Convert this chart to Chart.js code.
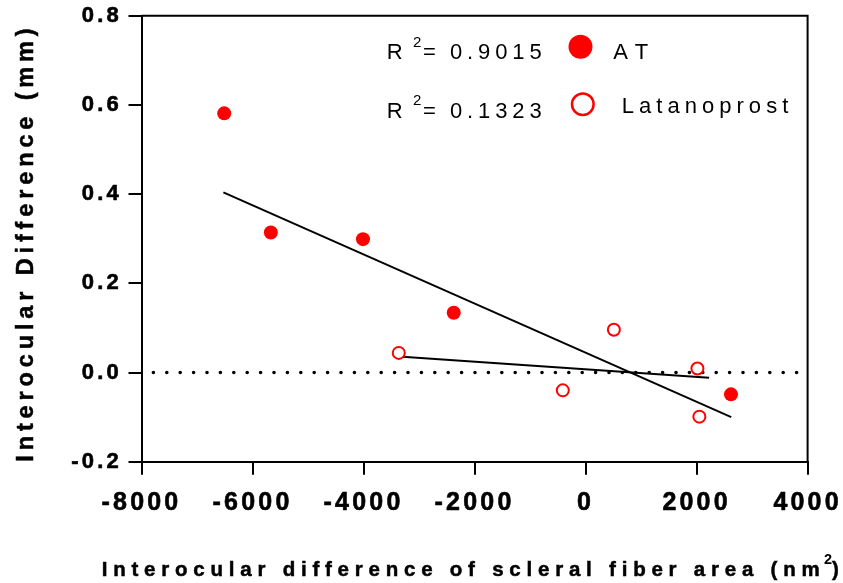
<!DOCTYPE html>
<html>
<head>
<meta charset="utf-8">
<script src="https://cdn.jsdelivr.net/npm/chart.js@4.4.1/dist/chart.umd.min.js"></script>
<style>
  html, body { margin: 0; padding: 0; background: #fff; }
  #wrap { width: 843px; height: 583px; }
</style>
</head>
<body>
<div id="wrap"><canvas id="chart" width="843" height="583"></canvas></div>
<script>
// values
const atX = [-6510, -5670, -4010, -2375, 2620]
const atY = [0.581, 0.314, 0.299, 0.134, -0.049]
const latX = [-3365, -410, 510, 2015, 2050]
const latY = [0.044, -0.040, 0.096, 0.009, -0.099]
// regression lines as drawn (end points)
const atFitX = [-6525, 2625]
const atFitY = [0.404, -0.100]
const latFitX = [-3365, 2225]
const latFitY = [0.036, -0.012]
// dotted zero line
const zeroX = [-8000, 4000]
const zeroY = [0, 0]

const xTicks = [-8000, -6000, -4000, -2000, 0, 2000, 4000]
const yTicks = [-0.2, 0, 0.2, 0.4, 0.6, 0.8]
const r2Values = ['0.9015', '0.1323']
const seriesNames = ['AT', 'Latanoprost']
const xTitle = 'Interocular difference of scleral fiber area (nm'
const yTitle = 'Interocular Difference (mm)'

const family = '"Liberation Sans", Arial, Helvetica, sans-serif'
const red = '#ff0000'

const toPoints = (xs, ys) => xs.map((x, i) => ({ x: x, y: ys[i] }))

// draw text so that its visible width matches the figure
function spacedText(ctx, text, x, y, width, stroke) {
    ctx.letterSpacing = '0px'
    const w0 = ctx.measureText(text).width
    const sp = text.length > 1 ? (width - w0) / (text.length - 1) : 0
    ctx.letterSpacing = sp + 'px'
    ctx.fillText(text, x, y)
    if (stroke) ctx.strokeText(text, x, y)
}

const framePlugin = {
    id: 'frame',
    beforeDraw(chart) {
        // spacing used by the tick labels
        chart.ctx.letterSpacing = '3.2px'
    },
    beforeDatasetsDraw(chart) {
        const { ctx, chartArea: a } = chart
        ctx.save()
        ctx.strokeStyle = '#000'
        ctx.lineWidth = 2
        ctx.beginPath()
        ctx.moveTo(a.left, a.top)
        ctx.lineTo(a.right, a.top)
        ctx.lineTo(a.right, a.bottom)
        ctx.stroke()
        ctx.restore()
    }
}

const textPlugin = {
    id: 'texts',
    afterDraw(chart) {
        const { ctx } = chart
        ctx.save()
        ctx.fillStyle = '#000'
        ctx.strokeStyle = '#000'
        ctx.lineWidth = 0.5
        ctx.textAlign = 'left'
        ctx.textBaseline = 'alphabetic'

        // x title
        ctx.font = 'bold 20.5px ' + family
        spacedText(ctx, xTitle, 101.7, 575.7, 718, true)
        ctx.letterSpacing = '0px'
        ctx.font = 'bold 14.5px ' + family
        ctx.fillText('2', 824, 563.5)
        ctx.font = 'bold 20.5px ' + family
        ctx.fillText(')', 832, 575.7)
        ctx.strokeText(')', 832, 575.7)

        // y title
        ctx.save()
        ctx.translate(33, 461.7)
        ctx.rotate(-Math.PI / 2)
        ctx.font = 'bold 23.5px ' + family
        spacedText(ctx, yTitle, 0, 0, 433.4, true)
        ctx.restore()

        // legend block
        const rows = [
            { base: 59.3, sup: 46.7, cy: 46.7, r: 12, filled: true, labelX: 613.3, labelBase: 58.6, labelW: 35 },
            { base: 118.3, sup: 104.5, cy: 104.2, r: 10.8, filled: false, labelX: 621.7, labelBase: 113.3, labelW: 166.6 }
        ]
        rows.forEach((row, i) => {
            ctx.fillStyle = '#000'
            ctx.letterSpacing = '0px'
            ctx.font = '22px ' + family
            ctx.fillText('R', 386.7, row.base)
            ctx.font = '15px ' + family
            ctx.fillText('2', 413, row.sup)
            ctx.font = '22px ' + family
            ctx.fillText('=', 423, row.base)
            spacedText(ctx, r2Values[i], 450, row.base, 91.7, false)
            spacedText(ctx, seriesNames[i], row.labelX, row.labelBase, row.labelW, false)

            ctx.beginPath()
            ctx.arc(row.filled ? 580.5 : 582.8, row.cy, row.r, 0, Math.PI * 2)
            if (row.filled) {
                ctx.fillStyle = red
                ctx.fill()
            } else {
                ctx.strokeStyle = red
                ctx.lineWidth = 2.5
                ctx.stroke()
            }
        })
        ctx.restore()
    }
}

new Chart(document.getElementById('chart'), {
    type: 'scatter',
    data: {
        datasets: [
            {
                label: 'AT',
                data: toPoints(atX, atY),
                pointRadius: 7,
                backgroundColor: red,
                borderColor: red,
                borderWidth: 0,
                order: 0
            },
            {
                label: 'Latanoprost',
                data: toPoints(latX, latY),
                pointRadius: 6,
                backgroundColor: '#fff',
                borderColor: red,
                borderWidth: 2,
                order: 0
            },
            {
                label: 'AT fit',
                data: toPoints(atFitX, atFitY),
                showLine: true,
                pointRadius: 0,
                borderColor: '#000',
                borderWidth: 2,
                order: 1
            },
            {
                label: 'Latanoprost fit',
                data: toPoints(latFitX, latFitY),
                showLine: true,
                pointRadius: 0,
                borderColor: '#000',
                borderWidth: 2,
                order: 1
            },
            {
                label: 'zero',
                data: toPoints(zeroX, zeroY),
                showLine: true,
                pointRadius: 0,
                borderColor: '#000',
                borderWidth: 3.6,
                borderDash: [0, 13.4],
                borderDashOffset: 1.5,
                borderCapStyle: 'round',
                order: 2
            }
        ]
    },
    options: {
        responsive: false,
        animation: false,
        events: [],
        layout: { padding: { top: 15.7, right: 35.4, left: 0, bottom: 0 } },
        plugins: {
            legend: { display: false },
            tooltip: { enabled: false }
        },
        scales: {
            x: {
                type: 'linear',
                min: -8000,
                max: 4000,
                afterBuildTicks: scale => { scale.ticks = xTicks.map(v => ({ value: v })) },
                afterFit: scale => {
                    scale.height = 121.3
                    scale.paddingLeft = 0
                    scale.paddingRight = 0
                },
                ticks: {
                    callback: v => String(v),
                    color: '#000',
                    font: { family: family, size: 25, weight: 'bold' },
                    textStrokeColor: '#000',
                    textStrokeWidth: 0.6,
                    padding: 13.5,
                    maxRotation: 0,
                    autoSkip: false
                },
                grid: { drawOnChartArea: false, drawTicks: true, tickLength: 13, color: '#000', lineWidth: 2 },
                border: { display: true, color: '#000', width: 2 }
            },
            y: {
                type: 'linear',
                min: -0.2,
                max: 0.8,
                afterBuildTicks: scale => { scale.ticks = yTicks.map(v => ({ value: v })) },
                afterFit: scale => {
                    scale.width = 141.5
                    scale.paddingTop = 0
                    scale.paddingBottom = 0
                },
                ticks: {
                    callback: v => v.toFixed(1),
                    color: '#000',
                    font: { family: family, size: 22, weight: 'bold' },
                    textStrokeColor: '#000',
                    textStrokeWidth: 0.6,
                    padding: 6.5,
                    autoSkip: false
                },
                grid: { drawOnChartArea: false, drawTicks: true, tickLength: 13, color: '#000', lineWidth: 2 },
                border: { display: true, color: '#000', width: 2 }
            }
        }
    },
    plugins: [framePlugin, textPlugin]
})
</script>
</body>
</html>
